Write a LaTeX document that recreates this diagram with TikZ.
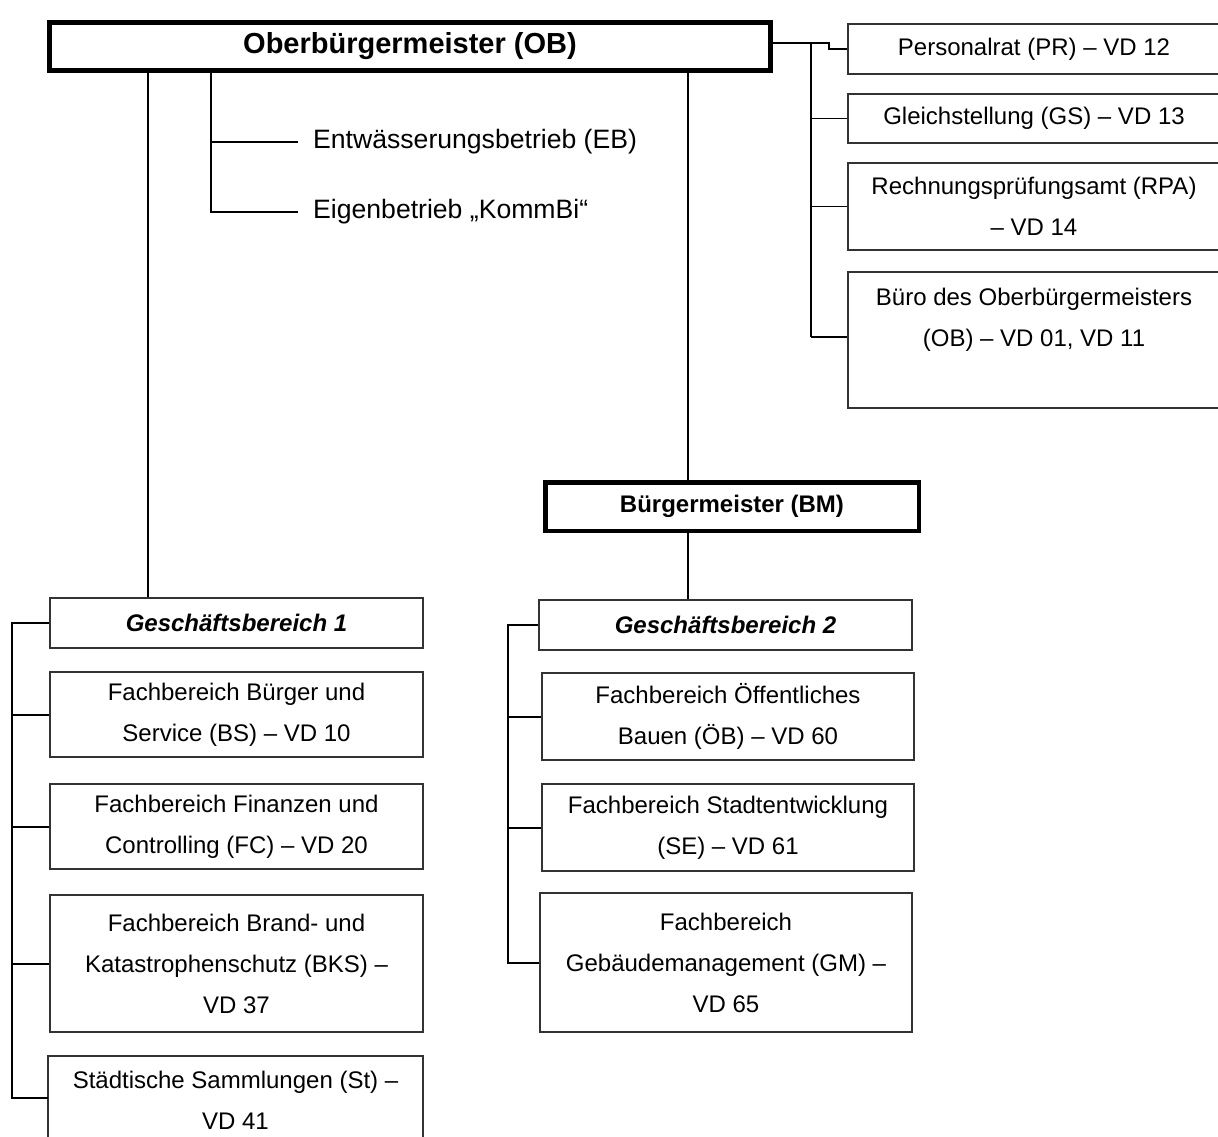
\documentclass[tikz,border=0pt]{standalone}
\usepackage{fontspec}
\setmainfont{Liberation Sans}
\begin{document}
\begin{tikzpicture}[x=1pt,y=-1pt]
\tikzset{
 obox/.style={draw=black!80, line width=1.3pt, inner sep=0pt, align=center, font=\fontsize{24}{41}\selectfont},
 chief/.style={draw=black, line width=4.5pt, inner sep=0pt, align=center},
 gbox/.style={obox, font=\bfseries\itshape\fontsize{24}{30}\selectfont},
 conn/.style={line width=1.6pt},
 bconn/.style={line width=2pt},
 plaintxt/.style={inner sep=0pt, inner xsep=15pt, font=\fontsize{26.6}{32}\selectfont, anchor=west}
}
\useasboundingbox (0,0) rectangle (1218,1137);

% chiefs
\node[chief, minimum width=721pt, minimum height=48pt, font=\bfseries\fontsize{29}{34}\selectfont] (ob) at (410,46.5) {Oberbürgermeister (OB)};
\node[chief, minimum width=373.5pt, minimum height=48.5pt, font=\bfseries\fontsize{24}{30}\selectfont] (bm) at (732,506.5) {Bürgermeister (BM)};

% right column
\node[obox, minimum width=372pt, minimum height=50pt] (pr) at (1034,49) {Personalrat (PR) – VD 12};
\node[obox, minimum width=372pt, minimum height=49pt] (gs) at (1034,118.5) {Gleichstellung (GS) – VD 13};
\node[obox, minimum width=372pt, minimum height=87pt] (rpa) at (1034,206.5) {Rechnungsprüfungsamt (RPA)\\– VD 14};
\node[obox, minimum width=372pt, minimum height=136pt] (buero) at (1034,340) {Büro des Oberbürgermeisters\\(OB) – VD 01, VD 11\\\vphantom{(}};

% Eigenbetriebe
\node[plaintxt] (eb) at (298,142) {Entwässerungsbetrieb (EB)};
\node[plaintxt] (eigen) at (298,212) {Eigenbetrieb „KommBi“};

% Geschaeftsbereich 1
\node[gbox, minimum width=373pt, minimum height=50pt] (gb1) at (236.5,623) {Geschäftsbereich 1};
\node[obox, minimum width=373pt, minimum height=85pt] (bs) at (236.5,714.5) {Fachbereich Bürger und\\Service (BS) – VD 10};
\node[obox, minimum width=373pt, minimum height=85pt] (fc) at (236.5,826.5) {Fachbereich Finanzen und\\Controlling (FC) – VD 20};
\node[obox, minimum width=373pt, minimum height=137pt] (bks) at (236.5,963.5) {Fachbereich Brand- und\\Katastrophenschutz (BKS) –\\VD 37};
\node[obox, minimum width=375pt, minimum height=88pt] (st) at (235.5,1100) {Städtische Sammlungen (St) –\\VD 41};

% Geschaeftsbereich 2
\node[gbox, minimum width=373pt, minimum height=50pt] (gb2) at (725.5,625) {Geschäftsbereich 2};
\node[obox, minimum width=372pt, minimum height=87pt] (oeb) at (728,716.5) {Fachbereich Öffentliches\\Bauen (ÖB) – VD 60};
\node[obox, minimum width=372pt, minimum height=87pt] (se) at (728,827.5) {Fachbereich Stadtentwicklung\\(SE) – VD 61};
\node[obox, minimum width=372pt, minimum height=139pt] (gm) at (726,962.5) {Fachbereich\\Gebäudemanagement (GM) –\\VD 65};

% helper coordinates
\coordinate (xa) at (148,0);
\coordinate (xb) at (211,0);
\coordinate (xc) at (688,0);
\coordinate (xr) at (811,0);
\coordinate (pj) at (829,43);
\coordinate (bj) at (811,337);
\coordinate (xl) at (12,0);
\coordinate (stj) at (48,1098);
\coordinate (xm) at (508,0);

% connectors from OB
\draw[conn] (ob.south -| xa) -- (gb1.north -| xa);
\draw[conn] (ob.south -| xb) |- (eigen.west);
\draw[conn] (xb |- eb.west) -- (eb.west);
\draw[conn] (ob.south -| xc) -- (bm.north -| xc);
\draw[conn] (bm.south -| xc) -- (gb2.north -| xc);

% right bracket
\draw[conn] (ob.east |- pj) -- (pj) |- (pr.west);
\draw[conn] (xr |- pj) -- (bj);
\draw[conn] (xr |- gs.west) -- (gs.west);
\draw[conn] (xr |- rpa.west) -- (rpa.west);
\draw[conn] (bj) -- (bj -| buero.west);

% left bracket GB1
\draw[bconn] (gb1.west) -- (gb1.west -| xl) -- (xl |- stj) -- (stj);
\draw[bconn] (xl |- bs.west) -- (bs.west);
\draw[bconn] (xl |- fc.west) -- (fc.west);
\draw[bconn] (xl |- bks.west) -- (bks.west);

% left bracket GB2
\draw[bconn] (gb2.west) -- (gb2.west -| xm) |- (gm.west);
\draw[bconn] (xm |- oeb.west) -- (oeb.west);
\draw[bconn] (xm |- se.west) -- (se.west);
\end{tikzpicture}
\end{document}
